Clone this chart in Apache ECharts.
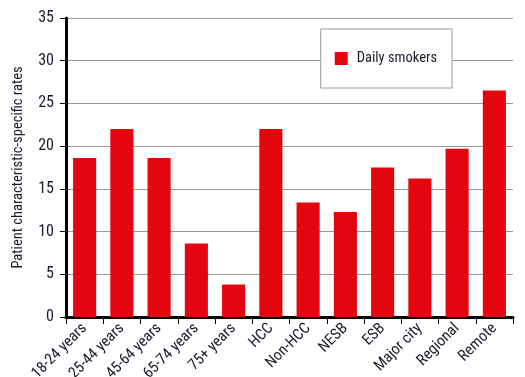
<!DOCTYPE html>
<html><head><meta charset="utf-8">
<script src="https://cdn.jsdelivr.net/npm/echarts@6/dist/echarts.min.js"></script>
<style>html,body{margin:0;padding:0;background:#fff}#c{width:525px;height:377px}</style>
</head><body><div id="c"></div>
<script>
const categories = ['18-24 years','25-44 years','45-64 years','65-74 years','75+ years','HCC','Non-HCC','NESB','ESB','Major city','Regional','Remote'];
const dailySmokers = [18.6, 22.0, 18.6, 8.6, 3.8, 22.0, 13.4, 12.3, 17.5, 16.2, 19.7, 26.5];
const yTicks = [0, 5, 10, 15, 20, 25, 30, 35];
const FONT = "'Liberation Sans Narrow', 'Arial Narrow', 'Roboto Condensed', sans-serif";
const chart = echarts.init(document.getElementById('c'));
chart.setOption({
  animation: false,
  textStyle: {fontFamily: FONT},
  grid: {left: 66, right: 12, top: 18, bottom: 60, containLabel: false, outerBoundsMode: 'none'},
  legend: {
    data: ['Daily smokers'],
    right: 73, top: 29,
    orient: 'vertical',
    backgroundColor: '#fff',
    borderColor: '#999', borderWidth: 1,
    padding: [22, 15, 22, 14],
    itemWidth: 13, itemHeight: 13, itemGap: 10,
    icon: 'rect',
    textStyle: {fontFamily: FONT, fontSize: 14.5, color: '#1a1a2e', padding: [0, 0, 0, 4]}
  },
  xAxis: {
    type: 'category', data: categories,
    axisLine: {lineStyle: {color: '#000', width: 3}},
    axisTick: {show: true, length: 7, lineStyle: {color: '#000', width: 1}},
    axisLabel: {rotate: 45, fontSize: 15.5, color: '#1a1a2e', fontFamily: FONT, margin: 9, interval: 0}
  },
  yAxis: {
    type: 'value', min: 0, max: 35, interval: 5,
    name: 'Patient characteristic-specific rates',
    nameLocation: 'middle', nameGap: 40,
    nameTextStyle: {fontSize: 14.5, color: '#1a1a2e', fontFamily: FONT},
    axisLine: {show: true, lineStyle: {color: '#000', width: 3}},
    axisTick: {show: true, inside: false, length: 6, lineStyle: {color: '#000'}},
    axisLabel: {fontSize: 16, color: '#1a1a2e', margin: 12, fontFamily: FONT,
      formatter: v => yTicks.includes(v) ? String(v) : ''},
    splitLine: {show: true, lineStyle: {color: '#999', width: 1}}
  },
  series: [{
    name: 'Daily smokers', type: 'bar', data: dailySmokers,
    barWidth: '62%',
    itemStyle: {color: '#e3060f'}
  }]
});
</script></body></html>
